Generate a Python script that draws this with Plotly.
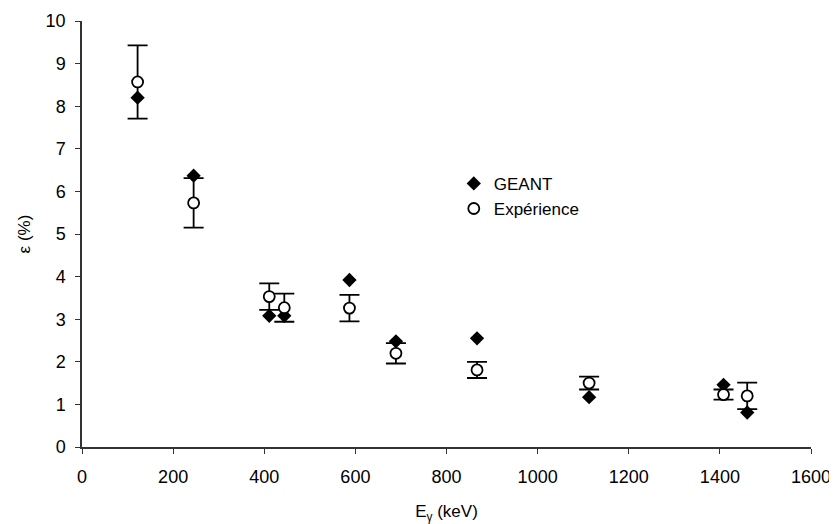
import plotly.graph_objects as go

# Energies (keV)
energy = [122, 245, 411, 444, 587, 689, 867, 1113, 1408, 1460]
# GEANT simulation efficiency (%)
geant = [8.20, 6.37, 3.08, 3.08, 3.92, 2.48, 2.55, 1.17, 1.46, 0.81]
# Experimental efficiency (%)
experience = [8.57, 5.73, 3.53, 3.27, 3.26, 2.20, 1.81, 1.50, 1.23, 1.20]
# Experimental uncertainty (%)
exp_err = [0.86, 0.58, 0.31, 0.33, 0.31, 0.24, 0.19, 0.15, 0.12, 0.31]

FONT = "Liberation Sans, Arial, sans-serif"

fig = go.Figure()
fig.add_trace(go.Scatter(
    x=energy, y=geant, mode="markers", name="GEANT",
    marker=dict(symbol="diamond", size=11, color="black",
                line=dict(color="black", width=0)),
))
fig.add_trace(go.Scatter(
    x=energy, y=experience, mode="markers", name="Expérience",
    marker=dict(symbol="circle", size=11, color="white",
                line=dict(color="black", width=1.8)),
    error_y=dict(type="data", array=exp_err, visible=True,
                 color="black", thickness=1.8, width=10),
))

axis_common = dict(
    showgrid=False, zeroline=False, showline=True, linecolor="#333333",
    linewidth=1.5, ticks="outside", ticklen=5, tickwidth=1.2,
    tickcolor="#333333", mirror=False, automargin=False,
    tickfont=dict(family=FONT, size=18, color="black"),
)

# the page body adds an 8px offset, so the figure is sized to compensate
fig.update_layout(
    width=829, height=516,
    margin=dict(l=74, r=26, t=13, b=77),
    paper_bgcolor="white", plot_bgcolor="white",
    font=dict(family=FONT, color="black"),
    showlegend=True,
    legend=dict(x=0.51, y=0.66, xanchor="left", yanchor="top",
                font=dict(family=FONT, size=17, color="black"),
                bgcolor="rgba(0,0,0,0)", itemwidth=30, tracegroupgap=0),
    xaxis=dict(range=[0, 1600], tickmode="linear", tick0=0, dtick=200,
               title=dict(text="E<sub>γ</sub> (keV)",
                          font=dict(family=FONT, size=17, color="black"),
                          standoff=19),
               ticklabelstandoff=8,
               **axis_common),
    yaxis=dict(range=[0, 10], tickmode="linear", tick0=0, dtick=1,
               title=dict(text="ε (%)",
                          font=dict(family=FONT, size=17, color="black"),
                          standoff=11),
               ticklabelstandoff=6,
               **axis_common),
)

fig.write_html("out.html")
